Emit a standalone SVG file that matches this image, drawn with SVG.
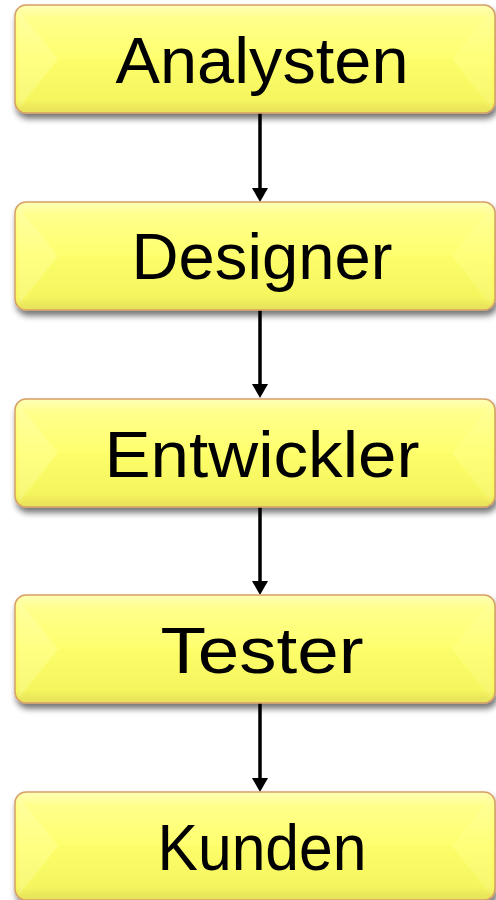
<svg xmlns="http://www.w3.org/2000/svg" xmlns:xlink="http://www.w3.org/1999/xlink" width="496" height="900" viewBox="0 0 496 900">
<defs>
<style>
.lbl{font-family:"Liberation Sans","DejaVu Sans",sans-serif;font-size:64px;fill:#000;text-anchor:middle}
.conn{stroke:#000;stroke-width:3.5;fill:none}
.head{fill:#000}
</style>
<linearGradient id="gBody" x1="0" y1="0" x2="0" y2="1">
<stop offset="0" stop-color="#ffffb8"/>
<stop offset="0.12" stop-color="#ffff8c"/>
<stop offset="0.5" stop-color="#ffff6e"/>
<stop offset="0.88" stop-color="#f7f763"/>
<stop offset="1" stop-color="#e6e05a"/>
</linearGradient>
<filter id="shadow" x="-10%" y="-20%" width="120%" height="150%">
<feGaussianBlur in="SourceAlpha" stdDeviation="3"/>
<feOffset dx="2" dy="5" result="b"/>
<feComponentTransfer><feFuncA type="linear" slope="0.55"/></feComponentTransfer>
<feMerge><feMergeNode/><feMergeNode in="SourceGraphic"/></feMerge>
</filter>
<g id="box">
<rect x="15" y="0" width="480" height="108" rx="11" fill="url(#gBody)" stroke="#d6a066" stroke-width="1.5" filter="url(#shadow)"/>
<polygon points="19,6 58,54 19,102" fill="#ffffff" opacity="0.14"/>
<polygon points="491,6 452,54 491,102" fill="#ffffff" opacity="0.08"/>
<polygon points="21,104 58,54 452,54 489,104" fill="#c8c000" opacity="0.03"/>
</g>
</defs>
<g id="connectors">
<line class="conn" x1="260" y1="113" x2="260" y2="189"/>
<polygon class="head" points="252,188 268,188 260,202"/>
<line class="conn" x1="260" y1="310" x2="260" y2="385"/>
<polygon class="head" points="252,384 268,384 260,398"/>
<line class="conn" x1="260" y1="507" x2="260" y2="582"/>
<polygon class="head" points="252,581 268,581 260,595"/>
<line class="conn" x1="260" y1="703" x2="260" y2="779"/>
<polygon class="head" points="252,778 268,778 260,792"/>
</g>
<g id="node-analysten" transform="translate(0,5)">
<use xlink:href="#box"/>
<text class="lbl" x="262" y="78" textLength="293" lengthAdjust="spacingAndGlyphs">Analysten</text>
</g>
<g id="node-designer" transform="translate(0,202)">
<use xlink:href="#box"/>
<text class="lbl" x="262" y="77" textLength="261" lengthAdjust="spacingAndGlyphs">Designer</text>
</g>
<g id="node-entwickler" transform="translate(0,399)">
<use xlink:href="#box"/>
<text class="lbl" x="262" y="78" textLength="315" lengthAdjust="spacingAndGlyphs">Entwickler</text>
</g>
<g id="node-tester" transform="translate(0,595)">
<use xlink:href="#box"/>
<text class="lbl" x="262" y="78" textLength="203" lengthAdjust="spacingAndGlyphs">Tester</text>
</g>
<g id="node-kunden" transform="translate(0,792)">
<use xlink:href="#box"/>
<text class="lbl" x="262" y="78" textLength="209" lengthAdjust="spacingAndGlyphs">Kunden</text>
</g>
</svg>
